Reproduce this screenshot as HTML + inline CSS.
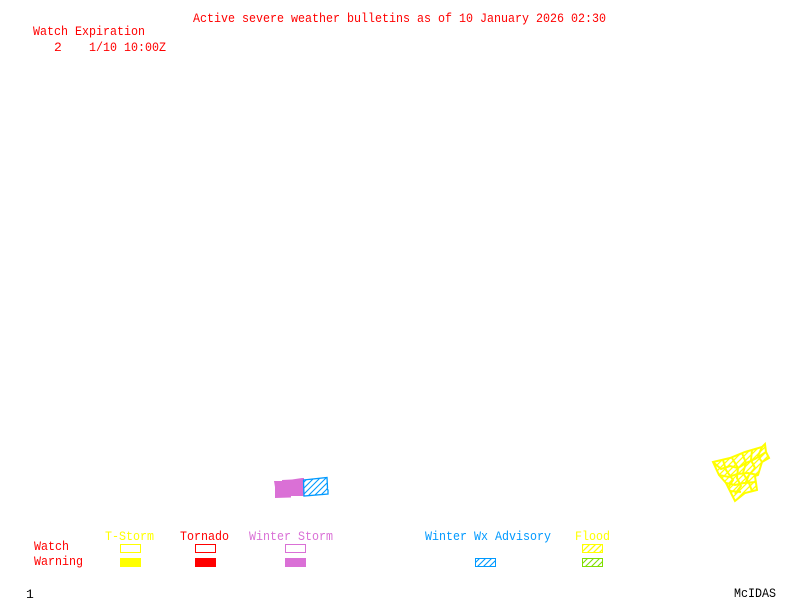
<!DOCTYPE html>
<html><head><meta charset="utf-8">
<style>html,body{margin:0;padding:0;background:#fff;width:800px;height:600px;overflow:hidden}svg{display:block}
text{font-family:"Liberation Mono",monospace;font-size:13px;white-space:pre}
</style></head>
<body>
<svg width="800" height="600" viewBox="0 0 800 600" xmlns="http://www.w3.org/2000/svg">
<defs>
<pattern id="hb" width="6" height="6" patternUnits="userSpaceOnUse"><path d="M-1.5 7.5L7.5-1.5M-1.5 1.5L1.5-1.5M4.5 7.5L7.5 4.5" stroke="#0099ff" stroke-width="1.1" fill="none"/></pattern>
<pattern id="hy" width="6" height="6" patternUnits="userSpaceOnUse"><path d="M-1.5 7.5L7.5-1.5M-1.5 1.5L1.5-1.5M4.5 7.5L7.5 4.5" stroke="#ffff00" stroke-width="1.3" fill="none"/></pattern>
<pattern id="hg" width="6" height="6" patternUnits="userSpaceOnUse"><path d="M-1.5 7.5L7.5-1.5M-1.5 1.5L1.5-1.5M4.5 7.5L7.5 4.5" stroke="#7fdf00" stroke-width="1.1" fill="none"/></pattern>
</defs>
<g fill="#ff0000">
<text x="193" y="22" textLength="413" lengthAdjust="spacingAndGlyphs">Active severe weather bulletins as of 10 January 2026 02:30</text>
<text x="33" y="35" textLength="112" lengthAdjust="spacingAndGlyphs">Watch Expiration</text>
<text x="54" y="51">2</text>
<text x="89" y="51" textLength="77" lengthAdjust="spacingAndGlyphs">1/10 10:00Z</text>
<text x="34" y="550" textLength="35" lengthAdjust="spacingAndGlyphs">Watch</text>
<text x="34" y="565" textLength="49" lengthAdjust="spacingAndGlyphs">Warning</text>
<text x="180" y="540" textLength="49" lengthAdjust="spacingAndGlyphs">Tornado</text>
</g>
<text x="105" y="540" fill="#ffff00" textLength="49" lengthAdjust="spacingAndGlyphs">T-Storm</text>
<text x="249" y="540" fill="#da70d6" textLength="84" lengthAdjust="spacingAndGlyphs">Winter Storm</text>
<text x="425" y="540" fill="#0099ff" textLength="126" lengthAdjust="spacingAndGlyphs">Winter Wx Advisory</text>
<text x="575" y="540" fill="#ffff00" textLength="35" lengthAdjust="spacingAndGlyphs">Flood</text>
<text x="26" y="598" fill="#000">1</text>
<text x="734" y="597" fill="#000" textLength="42" lengthAdjust="spacingAndGlyphs">McIDAS</text>

<g shape-rendering="crispEdges" stroke-width="1" fill="none">
<rect x="120.500" y="544.500" width="20" height="8" stroke="#ffff00"/>
<rect x="195.500" y="544.500" width="20" height="8" stroke="#ff0000"/>
<rect x="285.500" y="544.500" width="20" height="8" stroke="#da70d6"/>
<rect x="120" y="558" width="21" height="9" fill="#ffff00"/>
<rect x="195" y="558" width="21" height="9" fill="#ff0000"/>
<rect x="285" y="558" width="21" height="9" fill="#da70d6"/>
</g>
<g stroke-width="1">
<rect x="475.500" y="558.500" width="20" height="8" fill="url(#hb)" stroke="#0099ff"/>
<rect x="582.500" y="544.500" width="20" height="8" fill="url(#hy)" stroke="#ffff00"/>
<rect x="582.500" y="558.500" width="20" height="8" fill="url(#hg)" stroke="#7fdf00"/>
</g>

<polygon points="274,481 282,481 282,480 292,479.500 302,478 304,478 304,496 291,496 291,497.500 275,498 275,487" fill="#da70d6"/>
<polygon points="303.500,480 327,477.500 327.500,488 327,489 328,490 328,494 304,496" fill="url(#hb)" stroke="#0099ff" stroke-width="1.300"/>

<g fill="none" stroke="#ffff00">
<polygon points="713,462 730,458 745,452 762,447 765,444 766,452 769,458 762,462 758,475 755,476 757,490 745,493 735,501 726,483 719,475" fill="url(#hy)" stroke-width="2"/>
<path d="M723,460L726,470L733,480L728,488M732,458L738,468L737,478L741,486L735,494M742,453L746,463L743,473L749,483L752,491M752,450L751,460L755,468L749,475L745,484M762,447L758,456L762,462M713,462L721,469L730,466L738,468L746,463L755,459L766,452M719,475L729,477L737,474L748,473L758,475M726,483L735,485L744,483L756,482M730,491L741,492" stroke-width="2"/>
</g>
</svg>
</body></html>
